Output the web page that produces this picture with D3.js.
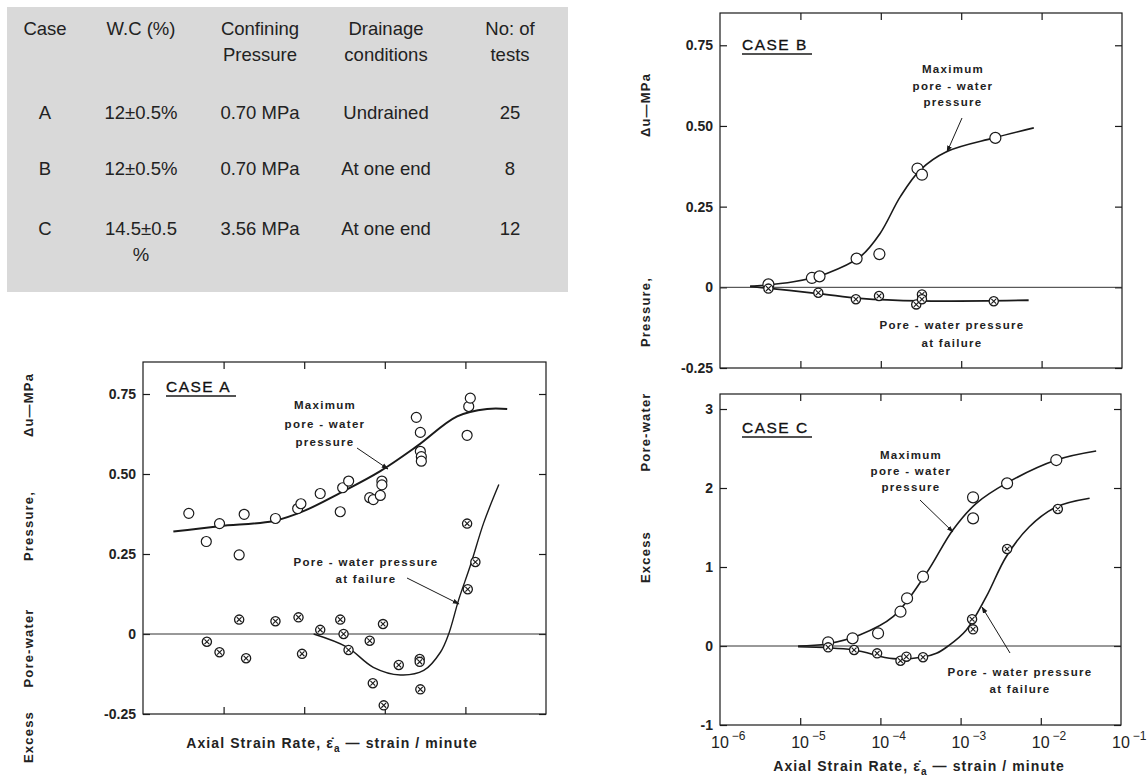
<!DOCTYPE html>
<html>
<head>
<meta charset="utf-8">
<script src="https://cdn.jsdelivr.net/npm/d3@7"></script>
<style>
  body { margin: 0; background: #fff; }
  text { font-family: "Liberation Sans", Arial, sans-serif; }
</style>
</head>
<body>
<svg id="chart" width="1147" height="778"></svg>
<script>
// ---- table ----
const tableHeader = [["Case"], ["W.C (%)"], ["Confining", "Pressure"], ["Drainage", "conditions"], ["No: of", "tests"]];
const tableRows = [
  [["A"], ["12±0.5%"], ["0.70 MPa"], ["Undrained"], ["25"]],
  [["B"], ["12±0.5%"], ["0.70 MPa"], ["At one end"], ["8"]],
  [["C"], ["14.5±0.5", "%"], ["3.56 MPa"], ["At one end"], ["12"]]
];

// ---- strain rate (1/min) vs excess pore-water pressure (MPa) ----
const caseAMaxPts = [[3.7e-6,0.377],[6.1e-6,0.289],[8.9e-6,0.345],[1.8e-5,0.374],[1.56e-5,0.247],[4.4e-5,0.361],
  [8.3e-5,0.392],[9.1e-5,0.407],[1.58e-4,0.439],[2.8e-4,0.382],[3.0e-4,0.457],[3.56e-4,0.478],[6.5e-4,0.426],
  [7.2e-4,0.42],[8.8e-4,0.433],[9.2e-4,0.478],[9.2e-4,0.466],[2.46e-3,0.677],[2.76e-3,0.63],[2.76e-3,0.571],
  [2.84e-3,0.554],[2.84e-3,0.54],[1.10e-2,0.711],[1.15e-2,0.737],[1.05e-2,0.621]];
const caseAMaxCurve = [[2.38e-6,0.320],[8.9e-6,0.337],[4.16e-5,0.353],[9.8e-5,0.384],[2.8e-4,0.441],[8.8e-4,0.509],
  [2.51e-3,0.587],[7.9e-3,0.680],[1.86e-2,0.703],[3.3e-2,0.703]];
const caseAFailPts = [[6.2e-6,-0.024],[8.9e-6,-0.057],[1.56e-5,0.045],[1.9e-5,-0.076],[4.4e-5,0.040],[8.5e-5,0.052],
  [9.4e-5,-0.062],[1.58e-4,0.013],[2.8e-4,0.045],[3.08e-4,0.0],[3.55e-4,-0.050],[6.5e-4,-0.021],[9.5e-4,0.031],
  [7.1e-4,-0.154],[9.7e-4,-0.223],[1.49e-3,-0.097],[2.71e-3,-0.078],[2.71e-3,-0.087],[2.76e-3,-0.173],
  [1.05e-2,0.345],[1.33e-2,0.225],[1.07e-2,0.140]];
const caseAFailCurve = [[1.31e-4,0],[3.4e-4,-0.041],[7.2e-4,-0.104],[1.56e-3,-0.128],[3.04e-3,-0.114],[4.9e-3,-0.057],
  [6.2e-3,0],[8.3e-3,0.109],[1.15e-2,0.213],[1.69e-2,0.348],[2.6e-2,0.467]];

const caseBMaxPts = [[4.0e-6,0.009],[1.39e-5,0.029],[1.73e-5,0.034],[5.0e-5,0.089],[9.6e-5,0.103],[2.86e-4,0.368],
  [3.25e-4,0.349],[2.66e-3,0.463]];
const caseBMaxCurve = [[2.37e-6,0.003],[8.2e-6,0.017],[2.13e-5,0.043],[5.5e-5,0.094],[9.8e-5,0.167],[1.75e-4,0.281],
  [3.1e-4,0.364],[6.65e-4,0.421],[2.54e-3,0.463],[8.0e-3,0.494]];
const caseBFailPts = [[4.0e-6,-0.004],[1.67e-5,-0.017],[4.9e-5,-0.037],[9.5e-5,-0.027],[2.76e-4,-0.053],[3.25e-4,-0.022],
  [3.25e-4,-0.037],[2.54e-3,-0.043]];
const caseBFailCurve = [[2.37e-6,0.003],[1.76e-5,-0.020],[5.5e-5,-0.034],[3.1e-4,-0.042],[6.9e-3,-0.040]];

const caseCMaxPts = [[2.23e-5,0.047],[4.5e-5,0.097],[9.35e-5,0.161],[1.78e-4,0.434],[2.15e-4,0.604],[3.4e-4,0.877],
  [1.43e-3,1.882],[1.43e-3,1.616],[3.8e-3,2.059],[1.56e-2,2.354]];
const caseCMaxCurve = [[9.4e-6,0],[2.13e-5,0.025],[5.5e-5,0.139],[1.44e-4,0.371],[3.74e-4,0.92],[8.0e-4,1.468],
  [1.57e-3,1.806],[3.7e-3,2.059],[1.56e-2,2.354],[4.9e-2,2.468]];
const caseCFailPts = [[2.23e-5,-0.017],[4.7e-5,-0.051],[9.1e-5,-0.093],[1.78e-4,-0.186],[2.11e-4,-0.135],[3.4e-4,-0.143],
  [1.39e-3,0.338],[1.43e-3,0.211],[3.8e-3,1.228],[1.63e-2,1.734]];
const caseCFailCurve = [[9.4e-6,-0.01],[4.6e-5,-0.05],[1.44e-4,-0.16],[3.4e-4,-0.14],[5.0e-4,-0.093],[7.0e-4,0],
  [1.18e-3,0.203],[2.09e-3,0.624],[3.7e-3,1.13],[7.2e-3,1.51],[1.56e-2,1.76],[4.06e-2,1.87]];

const xDecades = [1e-6, 1e-5, 1e-4, 1e-3, 1e-2, 1e-1];
const xTickLabels = ["−6", "−5", "−4", "−3", "−2", "−1"];
const yTicksAB = [-0.25, 0, 0.25, 0.5, 0.75];
const yLabelsAB = ["-0.25", "0", "0.25", "0.50", "0.75"];
const yTicksC = [-1, 0, 1, 2, 3];
const yLabelsC = ["-1", "0", "1", "2", "3"];
const yTitleWords = ["Excess", "Pore-water", "Pressure,", "Δu—MPa"];

const svg = d3.select("#chart");
const ink = "#1a1a1a";

// ---- table ----
const table = svg.append("g");
table.append("rect").attr("x", 7).attr("y", 7).attr("width", 561).attr("height", 285).attr("fill", "#d9d9d9");
const colX = [45, 141, 260, 386, 510];
const rowY = [112, 168, 228];
const cell = (x, y, t) => table.append("text").attr("x", x).attr("y", y)
  .attr("text-anchor", "middle").attr("dominant-baseline", "central")
  .attr("font-size", 18.5).attr("fill", "#222").text(t);
tableHeader.forEach((lines, i) => lines.forEach((t, j) => cell(colX[i], 28 + j * 26, t)));
tableRows.forEach((row, r) => row.forEach((lines, i) => lines.forEach((t, j) => cell(colX[i], rowY[r] + j * 26, t))));

// arrow marker
svg.append("defs").append("marker")
  .attr("id", "arr").attr("viewBox", "0 0 10 10").attr("refX", 9).attr("refY", 5)
  .attr("markerWidth", 7).attr("markerHeight", 7).attr("orient", "auto")
  .append("path").attr("d", "M0,1.5L10,5L0,8.5Z").attr("fill", ink);

const line = (x, y) => d3.line().x(d => x(d[0])).y(d => y(d[1])).curve(d3.curveCatmullRom.alpha(0.5));

function panel(cfg) {
  const g = svg.append("g");
  const x = d3.scaleLog().domain([1e-6, 1e-1]).range([cfg.left, cfg.right]);
  const y = d3.scaleLinear().domain(cfg.yDomain).range([cfg.bottom, cfg.top]);

  // frame
  g.append("rect").attr("x", cfg.left).attr("y", cfg.top)
    .attr("width", cfg.right - cfg.left).attr("height", cfg.bottom - cfg.top)
    .attr("fill", "none").attr("stroke", ink).attr("stroke-width", 1.2);

  // axes with inward ticks
  const yl = g.append("g").attr("transform", `translate(${cfg.left},0)`)
    .call(d3.axisLeft(y).tickValues(cfg.yTicks).tickSize(-7).tickPadding(7)
      .tickFormat((d, i) => cfg.yLabels[i]));
  g.append("g").attr("transform", `translate(${cfg.right},0)`)
    .call(d3.axisRight(y).tickValues(cfg.yTicks).tickSize(-7).tickFormat(""));
  g.append("g").attr("transform", `translate(0,${cfg.bottom})`)
    .call(d3.axisBottom(x).tickValues(xDecades.slice(1, 5)).tickSize(-7).tickFormat(""));
  g.append("g").attr("transform", `translate(0,${cfg.top})`)
    .call(d3.axisTop(x).tickValues(xDecades.slice(1, 5)).tickSize(-7).tickFormat(""));
  g.selectAll(".domain").remove();
  g.selectAll(".tick line").attr("stroke", ink).attr("stroke-width", 1.2);
  yl.selectAll("text").attr("font-size", 14).attr("font-weight", "bold").attr("fill", "#222");

  if (cfg.xLabels) {
    xDecades.forEach((v, i) => {
      const t = g.append("text").attr("x", x(v) - 9).attr("y", cfg.bottom + 23)
        .attr("font-size", 16).attr("fill", "#222");
      t.append("tspan").text("10");
      t.append("tspan").attr("dy", -8).attr("dx", 3).attr("font-size", 12).text(xTickLabels[i]);
    });
  }

  // zero line
  g.append("line").attr("x1", cfg.left).attr("x2", cfg.right)
    .attr("y1", y(0)).attr("y2", y(0)).attr("stroke", "#333").attr("stroke-width", 1);

  g.append("path").attr("d", line(x, y)(cfg.maxCurve)).attr("fill", "none")
    .attr("stroke", ink).attr("stroke-width", cfg.maxW);
  g.append("path").attr("d", line(x, y)(cfg.failCurve)).attr("fill", "none")
    .attr("stroke", ink).attr("stroke-width", cfg.failW);

  g.append("g").selectAll("circle").data(cfg.maxPts).join("circle")
    .attr("cx", d => x(d[0])).attr("cy", d => y(d[1])).attr("r", cfg.r)
    .attr("fill", "#fff").attr("stroke", ink).attr("stroke-width", 1.2);

  const fp = g.append("g").selectAll("g").data(cfg.failPts).join("g")
    .attr("transform", d => `translate(${x(d[0])},${y(d[1])})`);
  fp.append("circle").attr("r", 4.6).attr("fill", "#fff").attr("stroke", ink).attr("stroke-width", 1.3);
  fp.append("path").attr("d", "M-2.4,-2.4L2.4,2.4M-2.4,2.4L2.4,-2.4").attr("stroke", ink).attr("stroke-width", 1.1);

  // case title
  g.append("text").attr("x", cfg.caseXY[0]).attr("y", cfg.caseXY[1])
    .attr("font-size", 15.5).attr("letter-spacing", 1.5).attr("fill", "#111")
    .attr("stroke", "#111").attr("stroke-width", 0.3).text(cfg.caseName);
  g.append("line").attr("x1", cfg.caseXY[0]).attr("x2", cfg.caseXY[0] + 70)
    .attr("y1", cfg.caseXY[1] + 4).attr("y2", cfg.caseXY[1] + 4).attr("stroke", ink).attr("stroke-width", 1.3);

  const note = (lines, xy) => lines.forEach((t, i) => {
    g.append("text").attr("x", xy[0]).attr("y", xy[1] + i * xy[2])
      .attr("text-anchor", "middle").attr("dominant-baseline", "central")
      .attr("font-size", 11.5).attr("font-weight", "bold").attr("letter-spacing", 1.3)
      .attr("fill", "#222").text(t);
  });
  note(["Maximum", "pore - water", "pressure"], cfg.maxNote);
  note(["Pore - water  pressure", "at failure"], cfg.failNote);
  [cfg.maxArrow, cfg.failArrow].filter(a => a).forEach(a => {
    g.append("line").attr("x1", a[0]).attr("y1", a[1]).attr("x2", a[2]).attr("y2", a[3])
      .attr("stroke", ink).attr("stroke-width", 1).attr("marker-end", "url(#arr)");
  });
  return { x, y };
}

panel({
  left: 143, right: 546, top: 362, bottom: 714, yDomain: [-0.25, 0.85],
  yTicks: yTicksAB, yLabels: yLabelsAB, r: 5,
  maxPts: caseAMaxPts, maxCurve: caseAMaxCurve, failPts: caseAFailPts, failCurve: caseAFailCurve,
  maxW: 2, failW: 1.4, caseName: "CASE  A", caseXY: [166, 392],
  maxNote: [325, 405, 18.5], failNote: [366, 562, 16.5],
  maxArrow: [357, 448, 388, 469], failArrow: [407, 578, 459, 604]
});
panel({
  left: 720, right: 1122, top: 13, bottom: 368, yDomain: [-0.25, 0.85],
  yTicks: yTicksAB, yLabels: yLabelsAB, r: 5.5,
  maxPts: caseBMaxPts, maxCurve: caseBMaxCurve, failPts: caseBFailPts, failCurve: caseBFailCurve,
  maxW: 1.6, failW: 1.8, caseName: "CASE  B", caseXY: [742, 50],
  maxNote: [953, 69, 16.5], failNote: [952, 325, 18],
  maxArrow: [962, 118, 947, 152], failArrow: null
});
panel({
  left: 720, right: 1121, top: 394, bottom: 725, yDomain: [-1, 3.19],
  yTicks: yTicksC, yLabels: yLabelsC, xLabels: true, r: 5.5,
  maxPts: caseCMaxPts, maxCurve: caseCMaxCurve, failPts: caseCFailPts, failCurve: caseCFailCurve,
  maxW: 1.6, failW: 1.6, caseName: "CASE  C", caseXY: [742, 433],
  maxNote: [911, 455, 16], failNote: [1020, 672, 17],
  maxArrow: [920, 500, 953, 532], failArrow: [1010, 653, 982, 607]
});

// x axis titles
function xTitle(cx, cy) {
  const t = svg.append("text").attr("x", cx).attr("y", cy).attr("text-anchor", "middle")
    .attr("font-size", 14).attr("font-weight", "bold").attr("letter-spacing", 1.1).attr("fill", "#222");
  t.append("tspan").text("Axial  Strain  Rate,  ε̇");
  t.append("tspan").attr("dy", 4).attr("font-size", 10).text("a");
  t.append("tspan").attr("dy", -4).text("  —  strain / minute");
}
xTitle(332, 748);
xTitle(919, 771);

// y axis titles (rotated words)
function yTitle(cx, ys) {
  yTitleWords.forEach((w, i) => {
    svg.append("text").attr("transform", `translate(${cx},${ys[i]}) rotate(-90)`)
      .attr("text-anchor", "middle").attr("dominant-baseline", "central")
      .attr("font-size", 13).attr("font-weight", "bold").attr("letter-spacing", 1.2)
      .attr("fill", "#222").text(w);
  });
}
yTitle(28, [737, 648, 526, 405]);
yTitle(645, [557, 432, 312, 105]);
</script>
</body>
</html>
